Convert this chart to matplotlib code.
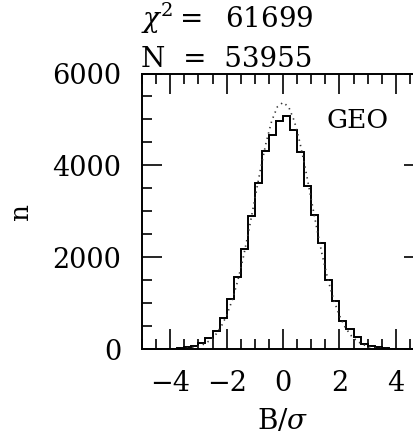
import numpy as np
import matplotlib
matplotlib.use("Agg")
import matplotlib.pyplot as plt
from matplotlib.ticker import MultipleLocator

# Histogram: bin edges (B/sigma) and counts
bin_edges = [-5.0, -4.75, -4.5, -4.25, -4.0, -3.75, -3.5, -3.25, -3.0, -2.75,
             -2.5, -2.25, -2.0, -1.75, -1.5, -1.25, -1.0, -0.75, -0.5, -0.25,
             0.0, 0.25, 0.5, 0.75, 1.0, 1.25, 1.5, 1.75, 2.0, 2.25,
             2.5, 2.75, 3.0, 3.25, 3.5, 3.75, 4.0, 4.25, 4.5, 4.75, 5.0]
counts = [0, 0, 0, 0, 5, 12, 36, 73, 123, 247,
          400, 682, 1089, 1561, 2178, 2904, 3615, 4310, 4670, 4970,
          5074, 4770, 4280, 3545, 2918, 2301, 1503, 1053, 617, 428,
          254, 109, 65, 36, 22, 10, 5, 0, 0, 0]

# Dotted model curve
model_x = [-4.0, -3.8, -3.6, -3.4, -3.2, -3.0, -2.8, -2.6, -2.4, -2.2,
           -2.0, -1.8, -1.6, -1.4, -1.2, -1.0, -0.8, -0.6, -0.4, -0.2,
           0.0, 0.2, 0.4, 0.6, 0.8, 1.0, 1.2, 1.4, 1.6, 1.8,
           2.0, 2.2, 2.4, 2.6, 2.8, 3.0, 3.2, 3.4, 3.6, 3.8, 4.0]
model_y = [2, 4, 8, 17, 32, 60, 107, 183, 302, 479,
           728, 1066, 1496, 2019, 2620, 3264, 3908, 4495, 4968, 5274,
           5370, 5274, 4968, 4495, 3908, 3264, 2620, 2019, 1496, 1066,
           728, 479, 302, 183, 107, 60, 32, 17, 8, 4, 2]

chi2_text = r"$\chi^2 = $  61699"
n_text = "N  =  53955"
panel_label = "GEO"
x_label = r"B/$\sigma$"
y_label = "n"
x_ticks = [-4, -2, 0, 2, 4]
x_tick_labels = ["\u22124", "\u22122", "0", "2", "4"]
y_ticks = [0, 2000, 4000, 6000]

plt.rcParams['font.family'] = ['DejaVu Serif']
plt.rcParams['mathtext.fontset'] = 'dejavuserif'

W, H = 413, 437
fig = plt.figure(figsize=(W / 100, H / 100), dpi=100)
fig.patch.set_facecolor('white')

left, right, bottom, top = 142, 424, 349, 73.5
ax = fig.add_axes([left / W, 1 - bottom / H, (right - left) / W, (bottom - top) / H])

ax.stairs(counts, bin_edges, color='black', linewidth=1.4)
ax.plot(model_x, model_y, linestyle=(0, (0.8, 2.5)), color='#333333', linewidth=1.2)

ax.set_xlim(-5, 5)
ax.set_ylim(0, 6000)
ax.set_xticks(x_ticks)
ax.set_xticklabels(x_tick_labels)
ax.set_yticks(y_ticks)
ax.xaxis.set_minor_locator(MultipleLocator(0.5))
ax.yaxis.set_minor_locator(MultipleLocator(500))

ax.tick_params(which='both', direction='in', top=True, right=True, width=1.2,
               labelsize=19.5, colors='black')
ax.tick_params(which='major', length=14.5)
ax.tick_params(which='minor', length=7.5)
ax.tick_params(axis='x', which='major', pad=15)
ax.tick_params(axis='y', which='major', pad=15)
for s in ax.spines.values():
    s.set_linewidth(1.4)

ax.set_xlabel(x_label, fontsize=20, labelpad=8)
ax.set_ylabel(y_label, fontsize=19, labelpad=14)

fig.text(327 / W, 1 - 120 / H, panel_label, fontsize=19, va='center', ha='left')
fig.text(141 / W, 1 - 28 / H, chi2_text, fontsize=20, va='baseline', ha='left')
fig.text(141 / W, 1 - 67 / H, n_text, fontsize=20, va='baseline', ha='left')

fig.savefig('out.png', dpi=100, facecolor='white')
